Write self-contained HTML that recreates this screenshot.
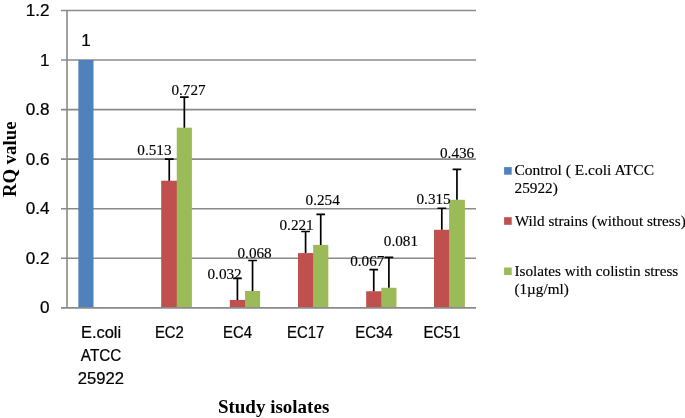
<!DOCTYPE html>
<html lang="en"><head><meta charset="utf-8"><title>RQ value of study isolates</title>
<style>
html,body{margin:0;padding:0;background:#fff;}
body{width:685px;height:418px;overflow:hidden;}
svg{display:block;}
.sans{font-family:"Liberation Sans",sans-serif;font-size:16px;fill:#000;stroke:#000;stroke-width:0.22px;}
.serif{font-family:"Liberation Serif",serif;font-size:15.5px;fill:#000;stroke:#000;stroke-width:0.15px;}
.leg{font-family:"Liberation Serif",serif;font-size:15.4px;fill:#000;stroke:#000;stroke-width:0.15px;}
.ttl{font-family:"Liberation Serif",serif;font-size:19px;font-weight:bold;fill:#000;}
</style></head><body>
<svg width="685" height="418" viewBox="0 0 685 418">
<rect x="0" y="0" width="685" height="418" fill="#ffffff"/>
<g stroke="#8a8a8a" stroke-width="1.6" fill="none">
<line x1="61.00" y1="258.29" x2="476.00" y2="258.29"/>
<line x1="61.00" y1="208.72" x2="476.00" y2="208.72"/>
<line x1="61.00" y1="159.16" x2="476.00" y2="159.16"/>
<line x1="61.00" y1="109.59" x2="476.00" y2="109.59"/>
<line x1="61.00" y1="60.03" x2="476.00" y2="60.03"/>
<line x1="61.00" y1="10.47" x2="476.00" y2="10.47"/>
<line x1="67.00" y1="10.47" x2="67.00" y2="307.85"/>
</g>
<rect x="78.36" y="60.03" width="15.15" height="247.32" fill="#4F81BD"/>
<rect x="161.20" y="180.72" width="16.15" height="126.63" fill="#C0504D"/>
<rect x="176.75" y="127.68" width="15.15" height="179.67" fill="#9BBB59"/>
<rect x="229.84" y="299.92" width="15.75" height="7.43" fill="#C0504D"/>
<rect x="244.99" y="291.00" width="15.15" height="16.35" fill="#9BBB59"/>
<rect x="298.01" y="253.08" width="15.75" height="54.27" fill="#C0504D"/>
<rect x="313.16" y="244.90" width="15.15" height="62.45" fill="#9BBB59"/>
<rect x="366.18" y="291.25" width="15.75" height="16.10" fill="#C0504D"/>
<rect x="381.32" y="287.78" width="15.15" height="19.57" fill="#9BBB59"/>
<rect x="434.00" y="229.79" width="15.70" height="77.56" fill="#C0504D"/>
<rect x="449.10" y="199.80" width="15.80" height="107.55" fill="#9BBB59"/>
<line x1="61.00" y1="307.85" x2="476.00" y2="307.85" stroke="#8a8a8a" stroke-width="1.7"/>
<g stroke="#000" stroke-width="1.7" fill="none">
<path d="M169.25 180.72 V159.16 M164.90 159.16 H173.60"/>
<path d="M184.35 127.68 V97.20 M180.00 97.20 H188.70"/>
<path d="M237.42 299.92 V278.36 M233.07 278.36 H241.77"/>
<path d="M252.56 291.00 V260.52 M248.21 260.52 H256.91"/>
<path d="M305.58 253.08 V231.52 M301.23 231.52 H309.93"/>
<path d="M320.73 244.90 V214.42 M316.38 214.42 H325.08"/>
<path d="M373.75 291.25 V269.69 M369.40 269.69 H378.10"/>
<path d="M388.90 287.78 V257.29 M384.55 257.29 H393.25"/>
<path d="M441.80 229.79 V208.23 M437.45 208.23 H446.15"/>
<path d="M456.95 199.80 V169.32 M452.60 169.32 H461.30"/>
</g>
<g class="sans">
<text x="39.93" y="313.00" textLength="9.52" lengthAdjust="spacingAndGlyphs">0</text>
<text x="25.65" y="264.00" textLength="23.80" lengthAdjust="spacingAndGlyphs">0.2</text>
<text x="25.65" y="214.00" textLength="23.80" lengthAdjust="spacingAndGlyphs">0.4</text>
<text x="25.65" y="165.00" textLength="23.80" lengthAdjust="spacingAndGlyphs">0.6</text>
<text x="25.65" y="115.00" textLength="23.80" lengthAdjust="spacingAndGlyphs">0.8</text>
<text x="39.93" y="66.00" textLength="9.52" lengthAdjust="spacingAndGlyphs">1</text>
<text x="25.65" y="16.00" textLength="23.80" lengthAdjust="spacingAndGlyphs">1.2</text>
</g>
<g class="sans">
<text x="81.03" y="338.00" textLength="40.14" lengthAdjust="spacingAndGlyphs">E.coli</text>
<text x="80.83" y="361.00" textLength="40.55" lengthAdjust="spacingAndGlyphs">ATCC</text>
<text x="77.86" y="384.00" textLength="46.27" lengthAdjust="spacingAndGlyphs">25922</text>
<text x="154.88" y="338.00" textLength="28.95" lengthAdjust="spacingAndGlyphs">EC2</text>
<text x="223.04" y="338.00" textLength="28.95" lengthAdjust="spacingAndGlyphs">EC4</text>
<text x="287.07" y="338.00" textLength="37.22" lengthAdjust="spacingAndGlyphs">EC17</text>
<text x="355.24" y="338.00" textLength="37.22" lengthAdjust="spacingAndGlyphs">EC34</text>
<text x="423.41" y="338.00" textLength="37.22" lengthAdjust="spacingAndGlyphs">EC51</text>
</g>
<g class="sans"><text x="81.34" y="46.00" textLength="9.52" lengthAdjust="spacingAndGlyphs">1</text></g>
<g class="serif">
<text x="137.35" y="155.00" textLength="34.20" lengthAdjust="spacingAndGlyphs">0.513</text>
<text x="171.40" y="95.00" textLength="34.20" lengthAdjust="spacingAndGlyphs">0.727</text>
<text x="207.50" y="279.00" textLength="34.20" lengthAdjust="spacingAndGlyphs">0.032</text>
<text x="237.50" y="258.00" textLength="34.20" lengthAdjust="spacingAndGlyphs">0.068</text>
<text x="279.50" y="230.00" textLength="34.20" lengthAdjust="spacingAndGlyphs">0.221</text>
<text x="305.60" y="205.00" textLength="34.20" lengthAdjust="spacingAndGlyphs">0.254</text>
<text x="350.20" y="266.00" textLength="34.20" lengthAdjust="spacingAndGlyphs">0.067</text>
<text x="383.80" y="246.00" textLength="34.20" lengthAdjust="spacingAndGlyphs">0.081</text>
<text x="416.50" y="204.00" textLength="34.20" lengthAdjust="spacingAndGlyphs">0.315</text>
<text x="440.00" y="158.00" textLength="34.20" lengthAdjust="spacingAndGlyphs">0.436</text>
</g>
<text class="ttl" text-anchor="middle" x="273.6" y="413">Study isolates</text>
<text class="ttl" style="font-size:18.75px" text-anchor="middle" transform="translate(16 159.3) rotate(-90)">RQ value</text>
<rect x="504.1" y="167.1" width="7.6" height="7.6" fill="#4F81BD"/>
<rect x="504.1" y="217.2" width="7.6" height="7.6" fill="#C0504D"/>
<rect x="504.1" y="267.5" width="7.6" height="7.6" fill="#9BBB59"/>
<g class="leg">
<text x="514.50" y="175.00" textLength="139.50" lengthAdjust="spacingAndGlyphs">Control ( E.coli ATCC</text>
<text x="514.50" y="193.00" textLength="43.35" lengthAdjust="spacingAndGlyphs">25922)</text>
<text x="514.90" y="226.00" textLength="170.80" lengthAdjust="spacingAndGlyphs">Wild strains (without stress)</text>
<text x="514.50" y="276.00" textLength="163.80" lengthAdjust="spacingAndGlyphs">Isolates with colistin stress</text>
<text x="514.50" y="294.00" textLength="54.20" lengthAdjust="spacingAndGlyphs">(1µg/ml)</text>
</g>
</svg>
</body></html>
